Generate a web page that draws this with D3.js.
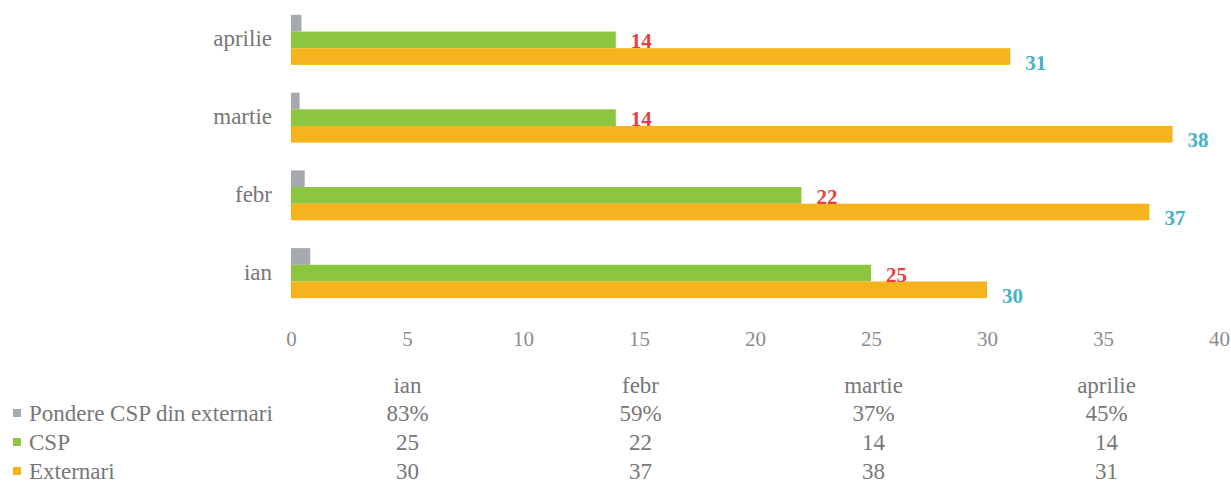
<!DOCTYPE html>
<html>
<head>
<meta charset="utf-8">
<script src="https://cdn.jsdelivr.net/npm/d3@7"></script>
<style>
  html, body { margin: 0; padding: 0; background: #ffffff; }
  svg { display: block; }
</style>
</head>
<body>
<svg id="chart" width="1231" height="497"></svg>
<script>
// Monthly data
const months = ["ian", "febr", "martie", "aprilie"];
const seriesNames = ["Pondere CSP din externari", "CSP", "Externari"];
const pondere = [0.83, 0.59, 0.37, 0.45];
const csp = [25, 22, 14, 14];
const externari = [30, 37, 38, 31];
const pondereLabels = ["83%", "59%", "37%", "45%"];
const xTicks = [0, 5, 10, 15, 20, 25, 30, 35, 40];
const seriesColors = ["#a6a9ae", "#8cc540", "#f5b41d"];

const SERIF = "'Liberation Serif', 'Times New Roman', serif";

const svg = d3.select("#chart").style("font-family", SERIF);

const x = d3.scaleLinear().domain([0, 40]).range([291, 1219]);

// Months stacked bottom (ian) to top (aprilie)
const y = d3.scaleBand()
  .domain(months.slice().reverse())
  .range([1, 312])
  .paddingInner(0.357)
  .paddingOuter(0.1785);

const ySeries = d3.scaleBand()
  .domain(seriesNames)
  .range([0, y.bandwidth()])
  .padding(0);

const rows = months.map((m, i) => ({
  month: m,
  values: [pondere[i], csp[i], externari[i]]
}));

// Bars
const groups = svg.append("g").selectAll("g")
  .data(rows)
  .join("g")
  .attr("transform", d => `translate(0,${y(d.month)})`);

groups.selectAll("rect")
  .data(d => d.values.map((v, k) => ({ v, k })))
  .join("rect")
  .attr("x", x(0))
  .attr("y", d => ySeries(seriesNames[d.k]))
  .attr("width", d => x(d.v) - x(0))
  .attr("height", ySeries.bandwidth())
  .attr("fill", d => seriesColors[d.k]);

// Value labels for CSP (red) and Externari (teal)
groups.append("text")
  .attr("x", d => x(d.values[1]) + 15)
  .attr("y", ySeries("CSP") + ySeries.bandwidth() / 2 + 8.5)
  .attr("fill", "#e6403b")
  .attr("font-weight", "bold")
  .attr("font-size", 21)
  .style("font-family", SERIF)
  .text(d => d.values[1]);

groups.append("text")
  .attr("x", d => x(d.values[2]) + 15)
  .attr("y", ySeries("Externari") + ySeries.bandwidth() / 2 + 13)
  .attr("fill", "#47b1c8")
  .attr("font-weight", "bold")
  .attr("font-size", 21)
  .style("font-family", SERIF)
  .text(d => d.values[2]);

// Category axis
const yAxis = d3.axisLeft(y).tickSize(0).tickPadding(19);
const yAxisG = svg.append("g")
  .attr("transform", `translate(${x(0)},0)`)
  .call(yAxis);
yAxisG.select(".domain").remove();
yAxisG.selectAll("text")
  .attr("fill", "#777")
  .attr("font-size", 23)
  .attr("dy", "0.28em")
  .style("font-family", SERIF);

// Value axis
const xAxis = d3.axisBottom(x).tickValues(xTicks).tickSize(0).tickPadding(0);
const xAxisG = svg.append("g")
  .attr("transform", "translate(0,331)")
  .call(xAxis);
xAxisG.select(".domain").remove();
xAxisG.selectAll("text")
  .attr("fill", "#8c8c8c")
  .attr("font-size", 21)
  .style("font-family", SERIF);

// Data table below the chart
const colX = d3.scaleBand().domain(months).range([291, 1223]);
const table = svg.append("g");

table.selectAll("text.head")
  .data(months)
  .join("text")
  .attr("class", "head")
  .attr("x", d => colX(d) + colX.bandwidth() / 2)
  .attr("y", 393)
  .attr("text-anchor", "middle")
  .attr("fill", "#777")
  .attr("font-size", 23)
  .style("font-family", SERIF)
  .text(d => d);

const tableRows = [
  { name: seriesNames[0], color: seriesColors[0], cells: pondereLabels },
  { name: seriesNames[1], color: seriesColors[1], cells: csp.map(String) },
  { name: seriesNames[2], color: seriesColors[2], cells: externari.map(String) }
];
const rowY = d3.scalePoint().domain(seriesNames).range([421, 479]);

const tr = table.selectAll("g.row")
  .data(tableRows)
  .join("g")
  .attr("class", "row")
  .attr("transform", d => `translate(0,${rowY(d.name)})`);

tr.append("rect")
  .attr("x", 13)
  .attr("y", -12)
  .attr("width", 8)
  .attr("height", 8)
  .attr("fill", d => d.color);

tr.append("text")
  .attr("x", 29)
  .attr("y", 0)
  .attr("fill", "#777")
  .attr("font-size", 23)
  .style("font-family", SERIF)
  .text(d => d.name);

tr.selectAll("text.cell")
  .data(d => d.cells)
  .join("text")
  .attr("class", "cell")
  .attr("x", (d, i) => colX(months[i]) + colX.bandwidth() / 2)
  .attr("y", 0)
  .attr("text-anchor", "middle")
  .attr("fill", "#777")
  .attr("font-size", 23)
  .style("font-family", SERIF)
  .text(d => d);
</script>
</body>
</html>
